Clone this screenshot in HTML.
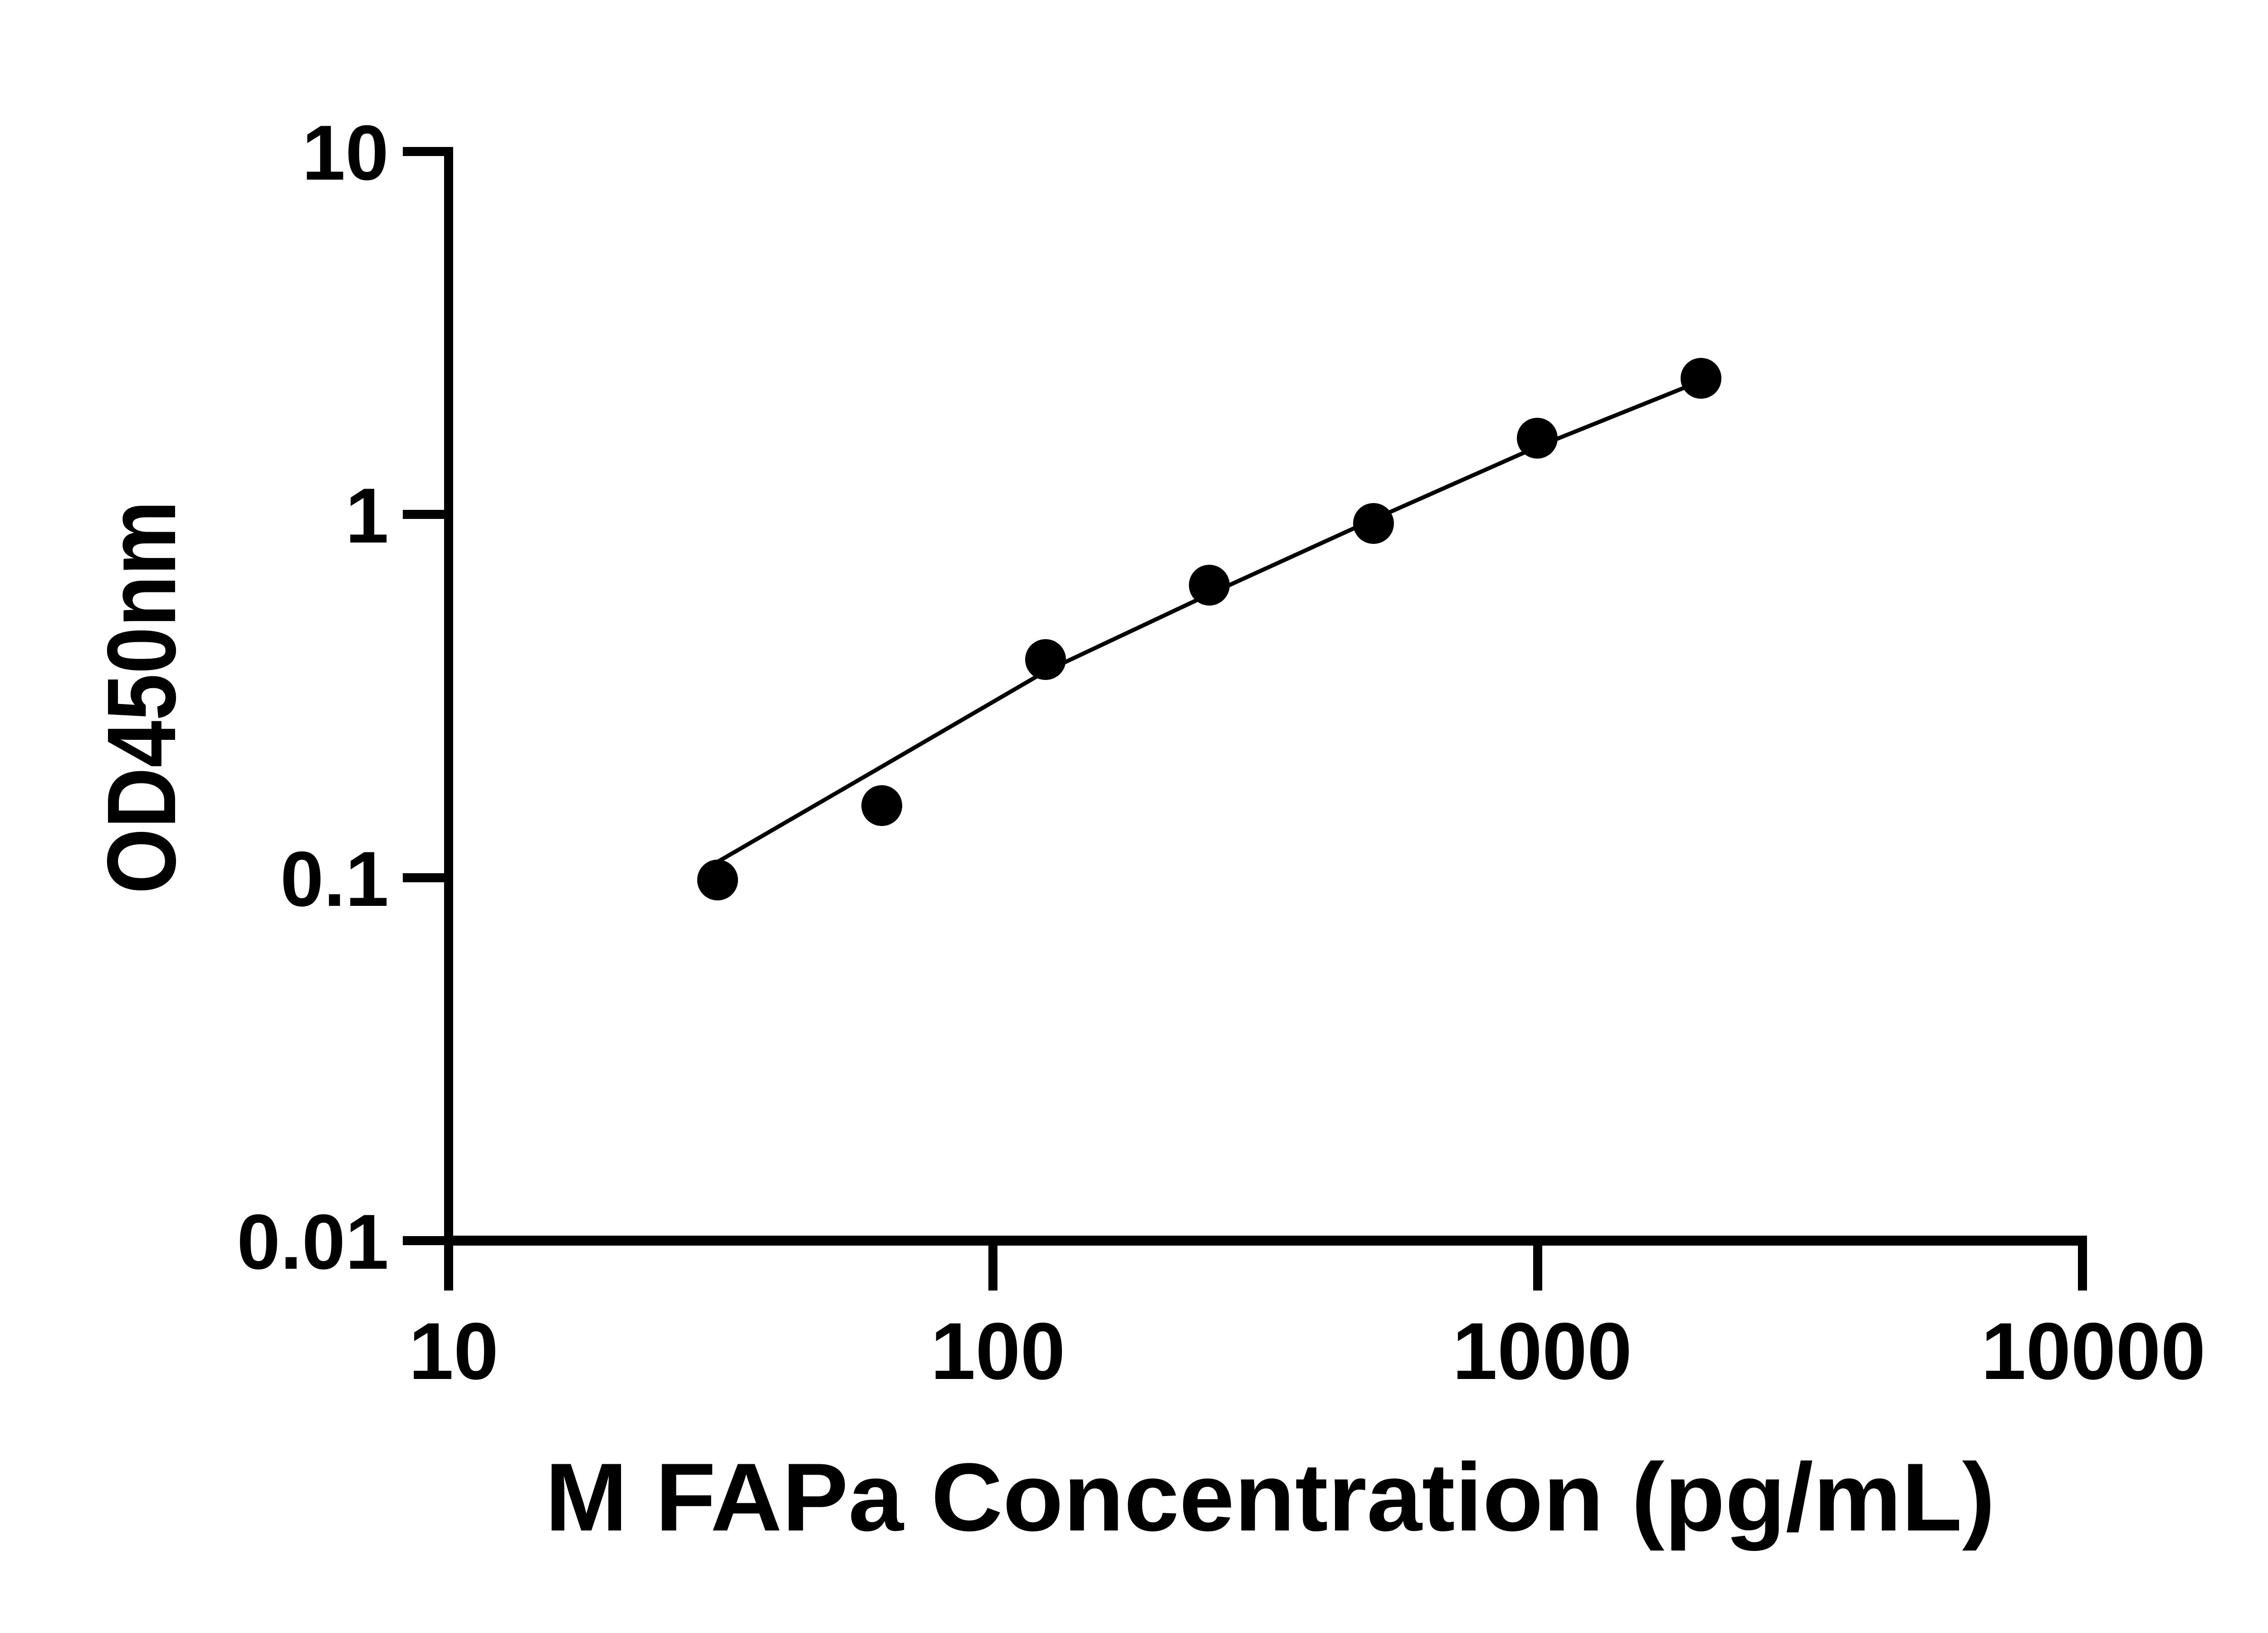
<!DOCTYPE html>
<html><head><meta charset="utf-8"><style>
html,body{margin:0;padding:0;background:#fff;}
svg{display:block;}
text{font-family:"Liberation Sans",sans-serif;font-weight:bold;fill:#000;}
</style></head><body>
<svg width="5142" height="3600" viewBox="0 0 5142 3600" xmlns="http://www.w3.org/2000/svg">
<rect width="5142" height="3600" fill="#fff"/>
<!-- axes -->
<line x1="989" y1="324" x2="989" y2="2845" stroke="#000" stroke-width="20"/>
<line x1="979" y1="2735" x2="4601" y2="2735" stroke="#000" stroke-width="22"/>
<!-- y ticks -->
<g stroke="#000" stroke-width="20">
<line x1="888" y1="334" x2="989" y2="334"/>
<line x1="888" y1="1134" x2="989" y2="1134"/>
<line x1="888" y1="1935" x2="989" y2="1935"/>
<line x1="888" y1="2735" x2="989" y2="2735"/>
</g>
<!-- x ticks -->
<g stroke="#000" stroke-width="20">
<line x1="2189" y1="2735" x2="2189" y2="2845"/>
<line x1="3390" y1="2735" x2="3390" y2="2845"/>
<line x1="4591" y1="2735" x2="4591" y2="2845"/>
</g>
<!-- y labels -->
<g font-size="172" text-anchor="end">
<text x="857" y="396">10</text>
<text x="857" y="1196">1</text>
<text x="857" y="1997">0.1</text>
<text x="857" y="2797">0.01</text>
</g>
<!-- x labels -->
<g font-size="178" text-anchor="middle">
<text x="1000" y="3040">10</text>
<text x="2200" y="3040">100</text>
<text x="3400" y="3040">1000</text>
<text x="4615" y="3040">10000</text>
</g>
<!-- titles -->
<text x="2800" y="3374" font-size="213" text-anchor="middle" textLength="3197" lengthAdjust="spacingAndGlyphs">M FAPa Concentration (pg/mL)</text>
<text transform="translate(386,1537) rotate(-90)" font-size="215" text-anchor="middle" textLength="867" lengthAdjust="spacingAndGlyphs">OD450nm</text>
<!-- curve -->
<polyline fill="none" stroke="#000" stroke-width="9" points="1582,1900 1944,1690 2305,1480 2666,1310 3028,1145 3389,985 3750,840"/>
<!-- points -->
<g fill="#000">
<circle cx="1582" cy="1940" r="45"/>
<circle cx="1944" cy="1776" r="45"/>
<circle cx="2305" cy="1454" r="45"/>
<circle cx="2666" cy="1290" r="45"/>
<circle cx="3028" cy="1154" r="45"/>
<circle cx="3389" cy="966" r="45"/>
<circle cx="3750" cy="834" r="45"/>
</g>
</svg>
</body></html>
